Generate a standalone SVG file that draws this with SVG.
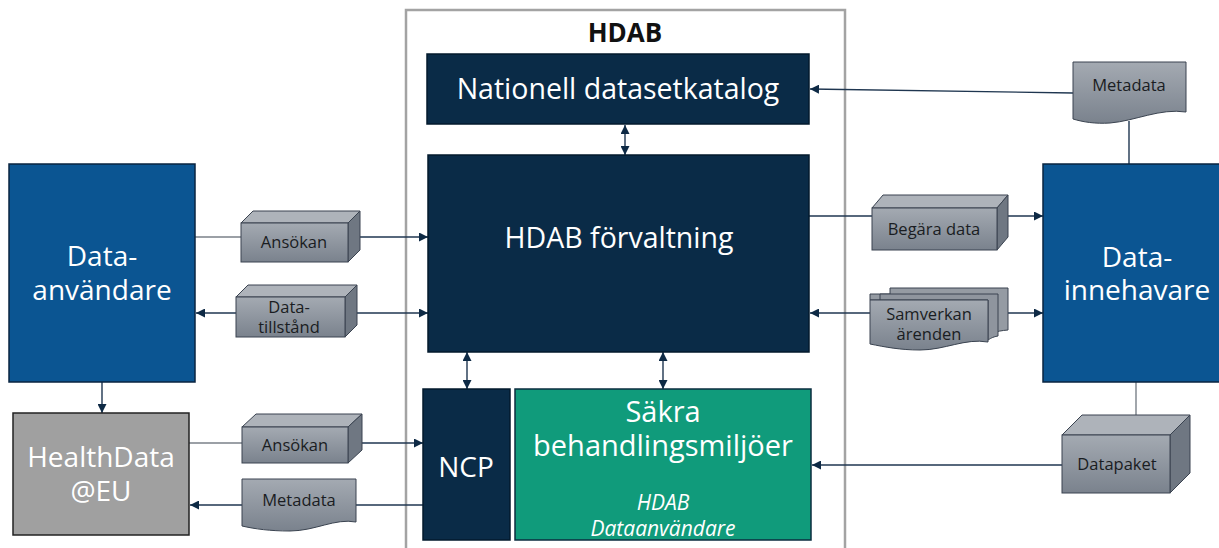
<svg xmlns="http://www.w3.org/2000/svg" width="1219" height="548" viewBox="0 0 1219 548">
<defs>
<style>
.t{font-family:"Open Sans","Noto Sans","Liberation Sans",sans-serif;text-anchor:middle}
.w{fill:#ffffff}
.big{font-size:28px}
.sm{font-size:16.5px;fill:#1a1d22}
.navy{fill:#0a2b47;stroke:#031a2c;stroke-width:1.5}
.blue{fill:#0b5592;stroke:#0a2540;stroke-width:1.5}
.cf{fill:url(#gFront);stroke:#3a4350;stroke-width:1}
.ct{fill:#aeb3ba;stroke:#3a4350;stroke-width:1}
.cr{fill:#6f7782;stroke:#3a4350;stroke-width:1}
.ln{stroke:#1f3650;stroke-width:1.4;fill:none}
.lg{stroke:#7a8088;stroke-width:1.4;fill:none}
</style>
<linearGradient id="gFront" x1="0" y1="0" x2="0" y2="1">
<stop offset="0" stop-color="#a4aab2"/>
<stop offset="1" stop-color="#7a828d"/>
</linearGradient>
<marker id="ah" viewBox="0 0 10 10" refX="10" refY="5" markerWidth="9" markerHeight="9" markerUnits="userSpaceOnUse" orient="auto-start-reverse">
<path d="M0,0 L10,5 L0,10 Z" fill="#0e2a45"/>
</marker>
</defs>
<rect width="1219" height="548" fill="#ffffff"/>

<g id="hdab">
<rect x="406" y="10" width="439" height="560" fill="none" stroke="#a3a3a3" stroke-width="2.5"/>
<text class="t" x="625" y="42" font-size="26" font-weight="bold" fill="#111">HDAB</text>
</g>

<g id="connectors">
<line class="ln" x1="1073" y1="93" x2="810" y2="89" marker-end="url(#ah)"/>
<line class="ln" x1="1129" y1="121" x2="1129" y2="170"/>
<line class="ln" x1="625" y1="125" x2="625" y2="155" marker-start="url(#ah)" marker-end="url(#ah)"/>
<line class="lg" x1="195" y1="237" x2="241" y2="237"/>
<line class="ln" x1="360" y1="237" x2="428" y2="237" marker-end="url(#ah)"/>
<line class="ln" x1="357" y1="313" x2="428" y2="313" marker-end="url(#ah)"/>
<line class="ln" x1="236" y1="313" x2="196" y2="313" marker-end="url(#ah)"/>
<line class="ln" x1="809" y1="216" x2="872" y2="216"/>
<line class="ln" x1="1008" y1="216" x2="1043" y2="216" marker-end="url(#ah)"/>
<line class="ln" x1="870" y1="313" x2="810" y2="313" marker-end="url(#ah)"/>
<line class="ln" x1="1008" y1="313" x2="1043" y2="313" marker-end="url(#ah)"/>
<line class="ln" x1="467" y1="352" x2="467" y2="389" marker-start="url(#ah)" marker-end="url(#ah)"/>
<line class="ln" x1="663" y1="352" x2="663" y2="389" marker-start="url(#ah)" marker-end="url(#ah)"/>
<line class="ln" x1="102" y1="382" x2="102" y2="413" marker-end="url(#ah)"/>
<line class="lg" x1="189" y1="443" x2="242" y2="443"/>
<line class="ln" x1="362" y1="443" x2="423" y2="443" marker-end="url(#ah)"/>
<line class="ln" x1="423" y1="505" x2="356" y2="505"/>
<line class="ln" x1="242" y1="505" x2="190" y2="505" marker-end="url(#ah)"/>
<line class="ln" x1="1062" y1="465" x2="812" y2="465" marker-end="url(#ah)"/>
<line class="lg" x1="1136" y1="382" x2="1136" y2="415"/>
</g>

<g id="katalog">
<rect class="navy" x="427" y="54" width="382" height="70"/>
<text class="t w" x="618" y="99" font-size="28.5">Nationell datasetkatalog</text>
</g>

<g id="forvaltning">
<rect class="navy" x="428" y="155" width="381" height="197"/>
<text class="t w" x="619" y="248" font-size="28.5">HDAB förvaltning</text>
</g>

<g id="ncp">
<rect class="navy" x="423" y="389" width="87" height="151"/>
<text class="t w big" x="466" y="477">NCP</text>
</g>

<g id="sakra">
<rect x="515" y="389" width="296" height="151" fill="#109b7b" stroke="#0b2c3f" stroke-width="1.5"/>
<text class="t w" x="663" y="422" font-size="29">Säkra</text>
<text class="t w" x="663" y="456" font-size="29">behandlingsmiljöer</text>
<text class="t w" x="663" y="510" font-size="21" font-style="italic">HDAB</text>
<text class="t w" x="663" y="536" font-size="21" font-style="italic">Dataanvändare</text>
</g>

<g id="dataanvandare">
<rect class="blue" x="9" y="164" width="186" height="218"/>
<text class="t w big" x="102" y="266">Data-</text>
<text class="t w big" x="102" y="300">användare</text>
</g>

<g id="healthdata">
<rect x="13" y="413" width="176" height="122" fill="#a0a0a0" stroke="#222" stroke-width="1.5"/>
<text class="t w big" x="101" y="467">HealthData</text>
<text class="t w big" x="101" y="501">@EU</text>
</g>

<g id="datainnehavare">
<rect class="blue" x="1043" y="164" width="190" height="218"/>
<text class="t w big" x="1137" y="267">Data-</text>
<text class="t w big" x="1137" y="300">innehavare</text>
</g>

<g id="metadata-top">
<path d="M1073,62 H1186 V112 C1160,108 1135,121 1110,123 C1095,124 1083,122 1073,119 Z" fill="url(#gFront)" stroke="#3a4350" stroke-width="1"/>
<text class="t sm" x="1129" y="91">Metadata</text>
</g>

<g id="ansokan-top">
<polygon class="ct" points="241,223 253,211 360,211 348,223"/>
<polygon class="cr" points="348,223 360,211 360,250 348,262"/>
<rect class="cf" x="241" y="223" width="107" height="39"/>
<text class="t sm" x="294" y="248">Ansökan</text>
</g>

<g id="datatillstand">
<polygon class="ct" points="236,297 248,285 357,285 345,297"/>
<polygon class="cr" points="345,297 357,285 357,325 345,337"/>
<rect class="cf" x="236" y="297" width="109" height="40"/>
<text class="t sm" x="289" y="313">Data-</text>
<text class="t sm" x="289" y="333">tillstånd</text>
</g>

<g id="begara">
<polygon class="ct" points="872,208 883,195 1008,195 997,208"/>
<polygon class="cr" points="997,208 1008,195 1008,237 997,250"/>
<rect class="cf" x="872" y="208" width="125" height="42"/>
<text class="t sm" x="934" y="235">Begära data</text>
</g>

<g id="samverkan">
<path d="M890,288 H1008 V330 C995,331 990,334 988,336 L988,300 H870 V294 H890 Z" fill="#959ba3" stroke="#3a4350" stroke-width="1"/>
<path d="M880,294 H998 V336 C992,337 990,339 988,340 V300 H880 Z" fill="#8f959e" stroke="#3a4350" stroke-width="1"/>
<path d="M870,300 H988 V342 C965,338 945,350 920,350 C900,350 885,347 870,344 Z" fill="url(#gFront)" stroke="#3a4350" stroke-width="1"/>
<text class="t sm" x="929" y="320">Samverkan</text>
<text class="t sm" x="929" y="340">ärenden</text>
</g>

<g id="ansokan-bottom">
<polygon class="ct" points="242,427 256,414 362,414 348,427"/>
<polygon class="cr" points="348,427 362,414 362,450 348,463"/>
<rect class="cf" x="242" y="427" width="106" height="36"/>
<text class="t sm" x="295" y="451">Ansökan</text>
</g>

<g id="metadata-bottom">
<path d="M242,479 H356 V522 C335,518 315,531 290,531 C270,531 255,529 242,526 Z" fill="url(#gFront)" stroke="#3a4350" stroke-width="1"/>
<text class="t sm" x="299" y="506">Metadata</text>
</g>

<g id="datapaket">
<polygon class="ct" points="1062,435 1082,415 1190,415 1170,435"/>
<polygon class="cr" points="1170,435 1190,415 1190,473 1170,493"/>
<rect class="cf" x="1062" y="435" width="108" height="58"/>
<text class="t sm" x="1117" y="470">Datapaket</text>
</g>
</svg>
